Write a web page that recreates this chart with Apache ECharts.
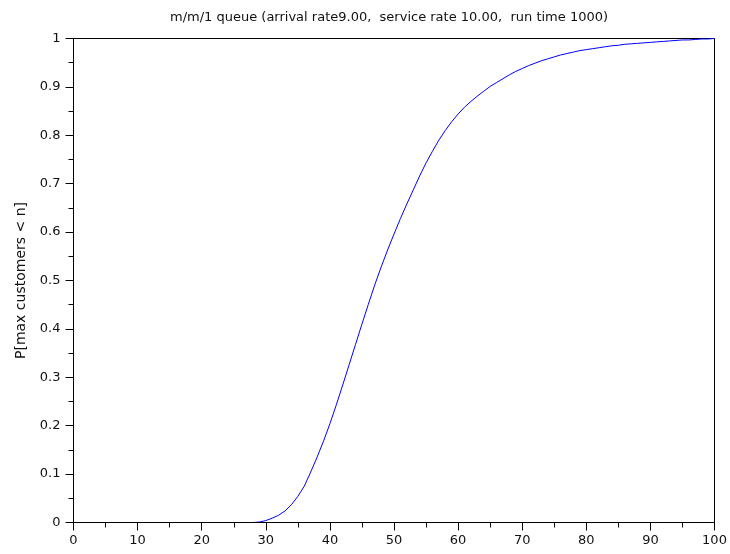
<!DOCTYPE html>
<html>
<head>
<meta charset="utf-8">
<script src="https://cdn.jsdelivr.net/npm/echarts@6/dist/echarts.min.js"></script>
<style>
  html, body { margin: 0; padding: 0; background: #fff; }
  #chart { width: 730px; height: 554px; }
</style>
</head>
<body>
<div id="chart"></div>
<script>
// n = maximum queue length threshold, 0..100
const nValues = [];
for (let n = 0; n <= 100; n++) nValues.push(n);

// P[max customers < n] for n = 0..100
const probValues = [
  0, 0, 0, 0, 0, 0, 0, 0, 0, 0,                                   // 0-9
  0, 0, 0, 0, 0, 0, 0, 0, 0, 0,                                   // 10-19
  0, 0, 0, 0, 0, 0, 0, 0, 0.000, 0.001,                           // 20-29
  0.004, 0.009, 0.015, 0.024, 0.037, 0.054, 0.075, 0.104, 0.135, 0.168, // 30-39
  0.204, 0.243, 0.284, 0.326, 0.368, 0.410, 0.451, 0.491, 0.528, 0.563, // 40-49
  0.596, 0.628, 0.658, 0.687, 0.716, 0.743, 0.767, 0.790, 0.810, 0.828, // 50-59
  0.844, 0.858, 0.870, 0.881, 0.891, 0.901, 0.909, 0.917, 0.925, 0.932, // 60-69
  0.938, 0.944, 0.949, 0.954, 0.958, 0.962, 0.966, 0.969, 0.972, 0.975, // 70-79
  0.977, 0.979, 0.981, 0.983, 0.985, 0.986, 0.988, 0.989, 0.990, 0.991, // 80-89
  0.992, 0.993, 0.994, 0.995, 0.996, 0.997, 0.997, 0.998, 0.999, 0.999, // 90-99
  1.000                                                            // 100
];

const titleText = 'm/m/1 queue (arrival rate9.00,  service rate 10.00,  run time 1000)';
const yAxisName = 'P[max customers < n]';

const FONT = 'DejaVu Sans';
const chart = echarts.init(document.getElementById('chart'), null, { renderer: 'canvas' });

chart.setOption({
  animation: false,
  backgroundColor: '#ffffff',
  title: {
    text: titleText,
    left: 384,
    textAlign: 'center',
    top: 6,
    textStyle: { fontFamily: FONT, fontSize: 13, fontWeight: 'normal', color: '#111' }
  },
  // half-pixel edges keep the frame and the zero-level curve on the same pixel row
  grid: {
    left: 73.5, right: 15.5, top: 38.5, bottom: 31.5,
    show: true,
    borderColor: '#000',
    borderWidth: 1,
    backgroundColor: 'transparent'
  },
  xAxis: {
    type: 'value',
    min: 0, max: 100, interval: 10,
    zlevel: 1, // axis layer sits above the curve where it runs along zero
    axisLine: { show: true, onZero: false, lineStyle: { color: '#000', width: 1 } },
    axisTick: { show: true, inside: false, length: 8, lineStyle: { color: '#000' } },
    minorTick: { show: true, splitNumber: 2, length: 5, lineStyle: { color: '#000' } },
    splitLine: { show: false },
    axisLabel: { margin: 12, fontFamily: FONT, fontSize: 13, color: '#111' }
  },
  yAxis: {
    type: 'value',
    min: 0, max: 1, interval: 0.1,
    name: yAxisName,
    nameLocation: 'middle',
    nameRotate: 90,
    nameGap: 45,
    nameTextStyle: { fontFamily: FONT, fontSize: 14, color: '#111' },
    axisLine: { show: true, onZero: false, lineStyle: { color: '#000', width: 1 } },
    axisTick: { show: true, inside: false, length: 8, lineStyle: { color: '#000' } },
    minorTick: { show: true, splitNumber: 2, length: 5, lineStyle: { color: '#000' } },
    splitLine: { show: false },
    axisLabel: {
      margin: 13, fontFamily: FONT, fontSize: 13, color: '#111',
      formatter: v => String(Math.round(v * 10) / 10)
    }
  },
  series: [{
    type: 'line',
    data: nValues.map((n, i) => [n, probValues[i]]),
    showSymbol: false,
    smooth: false,
    lineStyle: { color: '#0000ff', width: 1 },
    clip: true
  }]
});
</script>
</body>
</html>
